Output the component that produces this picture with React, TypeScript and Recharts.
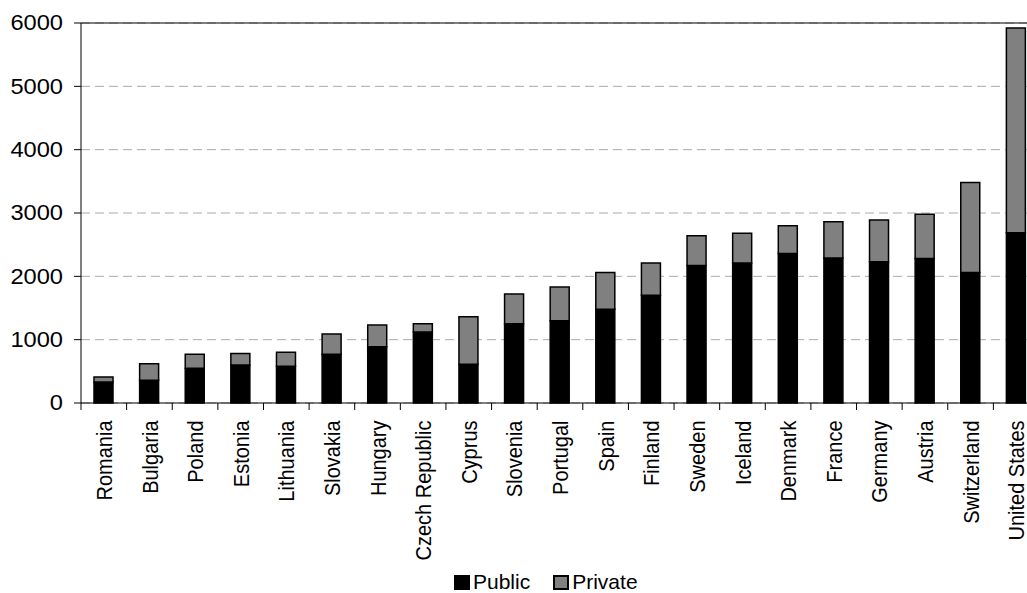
import { Bar, BarChart, CartesianGrid, Legend, ReferenceLine, XAxis, YAxis } from "recharts";

const countries = [
  "Romania", "Bulgaria", "Poland", "Estonia", "Lithuania", "Slovakia", "Hungary",
  "Czech Republic", "Cyprus", "Slovenia", "Portugal", "Spain", "Finland", "Sweden",
  "Iceland", "Denmark", "France", "Germany", "Austria", "Switzerland", "United States",
];
const publicSpend = [330, 360, 550, 600, 580, 770, 890, 1120, 610, 1250, 1300, 1480, 1700, 2170, 2210, 2360, 2290, 2230, 2280, 2060, 2690];
const privateSpend = [80, 260, 220, 180, 220, 320, 340, 130, 750, 470, 530, 580, 510, 470, 470, 440, 570, 660, 700, 1420, 3230];
const yTicks = [0, 1000, 2000, 3000, 4000, 5000, 6000];

const data = countries.map((name, i) => ({
  name,
  Public: publicSpend[i],
  Private: privateSpend[i],
}));

const FONT = "'Liberation Sans', Arial, sans-serif";
const W = 1039;
const H = 593;
const LEFT = 8;
const Y_W = 73;
const BAND = (W - LEFT - Y_W) / countries.length;

const YTick = (props: any) => {
  const { x, y, payload } = props;
  return (
    <text
      x={x}
      y={y}
      dy="0.34em"
      textAnchor="end"
      fontSize={21.5}
      fontFamily={FONT}
      fill="#000"
      transform={`translate(${x},0) scale(1.1,1) translate(${-x},0)`}
    >
      {payload.value}
    </text>
  );
};

const XTick = (props: any) => {
  const { x, y, payload } = props;
  const tx = x - BAND / 2;
  const ly = y + 17.5;
  return (
    <g>
      <line x1={tx} y1={y} x2={tx} y2={y + 7} stroke="#000" strokeWidth={1} />
      <text
        x={0}
        y={0}
        dy="0.36em"
        textAnchor="end"
        fontSize={20}
        fontFamily={FONT}
        fill="#000"
        transform={`translate(${x},${ly}) scale(1.12,1) rotate(-90)`}
      >
        {payload.value}
      </text>
    </g>
  );
};

const LegendBox = () => (
  <div
    style={{
      display: "flex",
      alignItems: "center",
      height: 20,
      paddingLeft: 454,
      fontFamily: FONT,
      fontSize: 21,
      color: "#000",
    }}
  >
    <span style={{ width: 14, height: 13, background: "#000", border: "1px solid #000", marginRight: 3 }} />
    <span style={{ marginRight: 23 }}>Public</span>
    <span style={{ width: 12, height: 11, background: "#808080", border: "2px solid #000", marginRight: 3 }} />
    <span>Private</span>
  </div>
);

export default function App() {
  return (
    <div
      style={{
        position: "fixed",
        left: 0,
        top: 0,
        width: 1027,
        height: 593,
        overflow: "hidden",
        background: "#fff",
      }}
    >
      <BarChart
        width={W}
        height={H}
        data={data}
        margin={{ top: 23, right: 0, bottom: 1, left: LEFT }}
        barSize={19}
      >
        <CartesianGrid vertical={false} stroke="#aaa" strokeDasharray="9 5" />
        <XAxis
          dataKey="name"
          interval={0}
          height={169}
          tickLine={false}
          tickSize={0}
          tickMargin={0}
          axisLine={{ stroke: "#000" }}
          tick={<XTick />}
        />
        <YAxis
          width={Y_W}
          domain={[0, 6000]}
          ticks={yTicks}
          tickSize={7}
          tickMargin={11}
          tickLine={{ stroke: "#000" }}
          axisLine={{ stroke: "#000" }}
          tick={<YTick />}
        />
        <ReferenceLine y={6000} stroke="#000" strokeWidth={1} />
        <Legend verticalAlign="bottom" content={<LegendBox />} wrapperStyle={{ left: 0, width: 1027 }} />
        <Bar dataKey="Public" stackId="a" fill="#000" stroke="#000" strokeWidth={1.5} isAnimationActive={false} />
        <Bar dataKey="Private" stackId="a" fill="#808080" stroke="#000" strokeWidth={1.5} isAnimationActive={false} />
      </BarChart>
    </div>
  );
}
